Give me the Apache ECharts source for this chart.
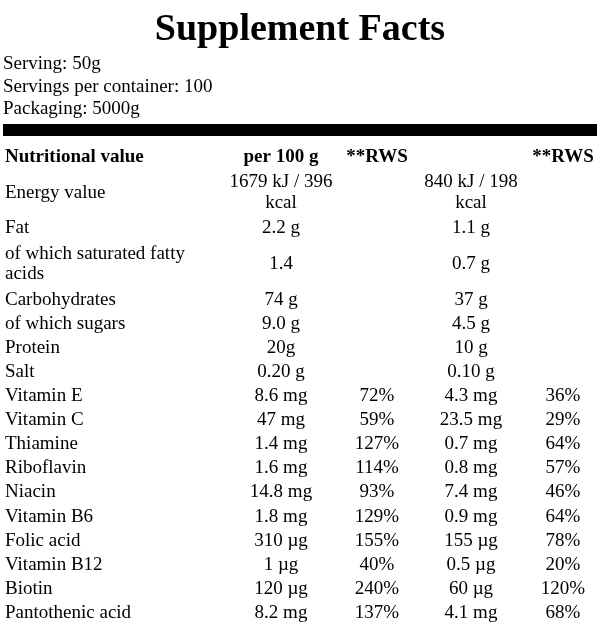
<!DOCTYPE html>
<html lang="en">
<head>
    <meta charset="UTF-8">
    <script src="https://cdn.jsdelivr.net/npm/echarts@6.0.0/dist/echarts.min.js"></script>
    <title>Supplement Facts</title>
    <style>
        html, body { margin: 0; padding: 0; background: #fff; }
        #main { width: 600px; height: 631px; }
    </style>
</head>
<body>
    <div id="main"></div>
    <script type="text/javascript">
        // table data
        var headers = ['Nutritional value', 'per 100 g', '**RWS', '', '**RWS'];
        var nutrients = ['Energy value', 'Fat', 'of which saturated fatty\nacids', 'Carbohydrates',
            'of which sugars', 'Protein', 'Salt', 'Vitamin E', 'Vitamin C', 'Thiamine', 'Riboflavin',
            'Niacin', 'Vitamin B6', 'Folic acid', 'Vitamin B12', 'Biotin', 'Pantothenic acid'];
        var per100 = ['1679 kJ / 396\nkcal', '2.2 g', '1.4', '74 g', '9.0 g', '20g', '0.20 g',
            '8.6 mg', '47 mg', '1.4 mg', '1.6 mg', '14.8 mg', '1.8 mg', '310 µg', '1 µg', '120 µg', '8.2 mg'];
        var rws100 = ['', '', '', '', '', '', '',
            '72%', '59%', '127%', '114%', '93%', '129%', '155%', '40%', '240%', '137%'];
        var per50 = ['840 kJ / 198\nkcal', '1.1 g', '0.7 g', '37 g', '4.5 g', '10 g', '0.10 g',
            '4.3 mg', '23.5 mg', '0.7 mg', '0.8 mg', '7.4 mg', '0.9 mg', '155 µg', '0.5 µg', '60 µg', '4.1 mg'];
        var rws50 = ['', '', '', '', '', '', '',
            '36%', '29%', '64%', '57%', '46%', '64%', '78%', '20%', '120%', '68%'];

        // layout
        var colX = [5, 281, 377, 471, 563];
        var colAlign = ['left', 'center', 'center', 'center', 'center'];
        var font = 'Liberation Serif';

        // rows: header + nutrients, height in row units from line count
        var rows = [headers];
        for (var i = 0; i < nutrients.length; i++) {
            rows.push([nutrients[i], per100[i], rws100[i], per50[i], rws50[i]]);
        }
        var cells = [];
        var pos = 0;
        rows.forEach(function (row, r) {
            var lines = 1;
            row.forEach(function (t) { lines = Math.max(lines, t.split('\n').length); });
            var h = lines > 1 ? 1.96 : 1;
            var center = pos + h / 2;
            row.forEach(function (t, c) {
                if (t !== '') cells.push([c, center, t, r === 0 ? 1 : 0]);
            });
            pos += h;
        });

        var myChart = echarts.init(document.getElementById('main'));
        var option = {
            animation: false,
            title: [{
                text: 'Supplement Facts',
                left: 'center',
                top: 6,
                textStyle: { fontFamily: font, fontSize: 38, fontWeight: 'bold', color: '#000' }
            }, {
                text: 'Serving: 50g\nServings per container: 100\nPackaging: 5000g',
                left: 3,
                top: 53,
                padding: 0,
                textStyle: { fontFamily: font, fontSize: 19, fontWeight: 'normal', color: '#000', lineHeight: 22.5 }
            }],
            graphic: [{
                type: 'rect',
                shape: { x: 3, y: 124, width: 594, height: 12 },
                style: { fill: '#000' }
            }],
            grid: { left: 0, right: 0, top: 145, bottom: 6 },
            xAxis: { type: 'value', min: 0, max: 600, show: false },
            yAxis: { type: 'value', min: 0, max: pos, inverse: true, show: false },
            series: [{
                type: 'custom',
                data: cells,
                renderItem: function (params, api) {
                    var c = api.value(0);
                    var p = api.coord([colX[c], api.value(1)]);
                    var d = cells[params.dataIndex];
                    return {
                        type: 'text',
                        style: {
                            text: d[2],
                            x: p[0],
                            y: p[1],
                            align: colAlign[c],
                            verticalAlign: 'middle',
                            fontFamily: font,
                            fontSize: 19,
                            fontWeight: d[3] ? 'bold' : 'normal',
                            lineHeight: 20.5,
                            fill: '#000'
                        }
                    };
                }
            }]
        };
        myChart.setOption(option);
    </script>
</body>
</html>
